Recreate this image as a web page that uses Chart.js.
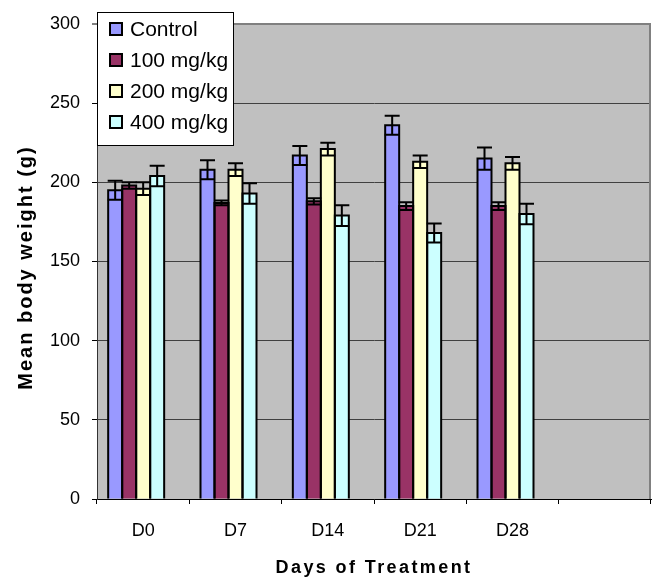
<!DOCTYPE html>
<html><head><meta charset="utf-8">
<script src="https://cdn.jsdelivr.net/npm/chart.js@4"></script>
<style>html,body{margin:0;padding:0;background:#fff;}#wrap{width:652px;height:583px;position:relative;}</style>
</head><body><div id="wrap"><canvas id="c"></canvas></div>
<script>
const categories = ['D0', 'D7', 'D14', 'D21', 'D28', ''];
const seriesNames = ['Control', '100 mg/kg', '200 mg/kg', '400 mg/kg'];
const control = [195, 208, 217, 236, 215, null];
const dose100 = [198, 187, 188, 185, 185, null];
const dose200 = [196, 208, 221, 213, 212, null];
const dose400 = [204, 193, 179, 168, 180, null];
const controlErr = [6, 6, 6, 6, 7, null];
const dose100Err = [2, 1.5, 2, 2.5, 2.5, null];
const dose200Err = [4, 4, 4, 4, 4, null];
const dose400Err = [6.5, 6.5, 6.5, 6, 6.5, null];
const yTicks = [0, 50, 100, 150, 200, 250, 300];
const yTitle = 'Mean body weight (g)';
const xTitle = 'Days of Treatment';

const FONT = "'Liberation Sans', Arial, sans-serif";
const colors = ['#9999ff', '#993366', '#ffffcc', '#ccffff'];
const values = [control, dose100, dose200, dose400];
const errors = [controlErr, dose100Err, dose200Err, dose400Err];

const datasets = values.map((d, i) => ({
  label: seriesNames[i], data: d, backgroundColor: colors[i], borderWidth: 0,
  barPercentage: 1, categoryPercentage: 0.758
}));
// empty fifth slot (as in the original chart layout)
datasets.push({label: '', data: categories.map(() => null), backgroundColor: 'transparent',
  barPercentage: 1, categoryPercentage: 0.758});

const plotPlugin = {
  id: 'plotDeco',
  beforeDraw(chart) {
    const {ctx, chartArea: a} = chart;
    ctx.save();
    ctx.fillStyle = '#c0c0c0';
    ctx.fillRect(a.left, a.top, a.right - a.left, a.bottom - a.top);
    ctx.restore();
    const sp = {x: '2.4px', y: '2px'};
    ['x', 'y'].forEach(id => {
      const s = chart.scales[id];
      if (s && !s._lsWrapped) {
        const orig = s.drawTitle.bind(s);
        s.drawTitle = function () {
          const c = this.ctx; const prev = c.letterSpacing;
          c.save();
          if (id === 'y') c.translate(0, 6);
          c.letterSpacing = sp[id]; orig(); c.letterSpacing = prev;
          c.restore();
        };
        s._lsWrapped = true;
      }
    });
  },
  beforeDatasetsDraw(chart) {
    const {ctx, chartArea: a} = chart;
    ctx.save();
    ctx.strokeStyle = '#808080'; ctx.lineWidth = 2;
    ctx.beginPath(); ctx.moveTo(a.left, a.top); ctx.lineTo(a.right - 1, a.top); ctx.lineTo(a.right - 1, a.bottom); ctx.stroke();
    ctx.restore();
  },
  afterDatasetsDraw(chart) {
    const ctx = chart.ctx, ys = chart.scales.y;
    // bar outlines centred on the bar edges
    values.forEach((arr, di) => {
      chart.getDatasetMeta(di).data.forEach((bar, j) => {
        if (arr[j] == null) return;
        const l = bar.x - bar.width / 2, r = bar.x + bar.width / 2;
        ctx.save(); ctx.strokeStyle = '#000'; ctx.lineWidth = 2;
        ctx.beginPath(); ctx.moveTo(l, bar.base); ctx.lineTo(l, bar.y); ctx.lineTo(r, bar.y); ctx.lineTo(r, bar.base);
        ctx.stroke(); ctx.restore();
      });
    });
    errors.forEach((arr, di) => {
      const meta = chart.getDatasetMeta(di);
      meta.data.forEach((bar, j) => {
        const v = values[di][j], e = arr[j];
        if (v == null || e == null) return;
        const x = bar.x, hw = bar.width / 2 + 0.5;
        const yt = ys.getPixelForValue(v + e), yb = ys.getPixelForValue(v - e);
        ctx.save(); ctx.strokeStyle = '#000'; ctx.lineWidth = 2;
        ctx.beginPath();
        ctx.moveTo(x, yt); ctx.lineTo(x, yb);
        ctx.moveTo(x - hw, yt); ctx.lineTo(x + hw, yt);
        ctx.moveTo(x - hw, yb); ctx.lineTo(x + hw, yb);
        ctx.stroke(); ctx.restore();
      });
    });
  },
  afterDraw(chart) {
    const ctx = chart.ctx;
    ctx.save();
    ctx.fillStyle = '#fff'; ctx.strokeStyle = '#000'; ctx.lineWidth = 1;
    ctx.fillRect(97.5, 12.5, 136, 133);
    ctx.strokeRect(97.5, 12.5, 136, 133);
    const rows = [29, 60, 91, 122];
    ctx.font = '21px ' + FONT; ctx.textBaseline = 'middle'; ctx.textAlign = 'left';
    seriesNames.forEach((n, i) => {
      ctx.fillStyle = colors[i];
      ctx.fillRect(110, rows[i] - 6, 12, 12);
      ctx.lineWidth = 2; ctx.strokeStyle = '#000';
      ctx.strokeRect(110, rows[i] - 6, 12, 12);
      ctx.fillStyle = '#000';
      ctx.fillText(n, 130, rows[i] + 1);
    });
    ctx.restore();
  }
};

new Chart(document.getElementById('c'), {
  type: 'bar',
  data: {labels: categories, datasets},
  plugins: [plotPlugin],
  options: {
    responsive: true, maintainAspectRatio: false, animation: false,
    layout: {padding: {left: 10, top: 24, right: 1, bottom: 0}},
    plugins: {legend: {display: false}, tooltip: {enabled: false}},
    scales: {
      x: {
        offset: true,
        grid: {offset: true, drawOnChartArea: false, drawTicks: true, tickLength: 5, color: '#000'},
        border: {display: true, color: '#000', width: 1},
        ticks: {color: '#000', font: {family: FONT, size: 18}, padding: 16, maxRotation: 0, autoSkip: false},
        title: {display: true, text: xTitle, color: '#000', font: {family: FONT, size: 18, weight: 'bold'}},
        afterFit(s) { s.height = 84; }
      },
      y: {
        min: 0, max: 300,
        afterBuildTicks(s) { s.ticks = yTicks.map(v => ({value: v})); },
        grid: {
          color: c => (c.tick && c.tick.value === 300) ? '#808080' : '#404040',
          lineWidth: c => (c.tick && c.tick.value === 300) ? 2 : 1,
          tickColor: '#000', tickLength: 5, tickWidth: 1
        },
        border: {display: true, color: '#333', width: 1},
        ticks: {color: '#000', font: {family: FONT, size: 18}, padding: 12},
        title: {display: true, text: yTitle, color: '#000', font: {family: FONT, size: 20, weight: 'bold'}},
        afterFit(s) { s.width = 87; }
      }
    }
  }
});
</script></body></html>
